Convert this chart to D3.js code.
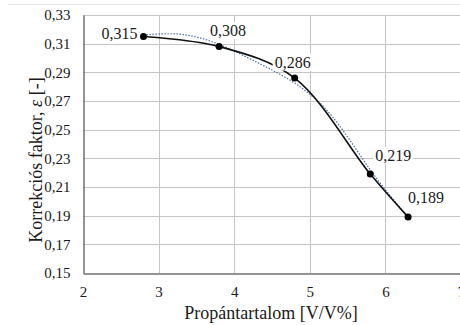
<!DOCTYPE html>
<html>
<head>
    <meta charset="utf-8">
    <script src="https://d3js.org/d3.v7.min.js"></script>
    <style>
        body { margin: 0; background: #fff; }
        svg text { font-family: "Liberation Serif", "Times New Roman", serif; fill: #1a1a1a; }
    </style>
</head>
<body>
<script>

    // measured points
    var propan = [2.8, 3.8, 4.8, 5.8, 6.3];
    var eps = [0.315, 0.308, 0.286, 0.219, 0.189];
    var pointLabels = ['0,315', '0,308', '0,286', '0,219', '0,189'];

    // dotted trendline
    var trendX = [2.8, 3.3, 3.8, 4.3, 4.8, 5.3, 5.8, 6.3];
    var trendY = [0.316, 0.3165, 0.3095, 0.297, 0.2825, 0.259, 0.222, 0.189];

    var xTicks = [2, 3, 4, 5, 6, 7];
    var yTicks = [0.15, 0.17, 0.19, 0.21, 0.23, 0.25, 0.27, 0.29, 0.31, 0.33];

    var width = 460, height = 325;
    var mLeft = 83, mTop = 15, mRight = 461, mBottom = 273;

    var xScale = d3.scaleLinear().domain([2, 7]).range([mLeft, mRight]);
    var yScale = d3.scaleLinear().domain([0.15, 0.33]).range([mBottom, mTop]);
    var fmt = function(d) { return d3.format('.2f')(d).replace('.', ','); };

    var svg = d3.select('body').append('svg')
        .attr('width', width)
        .attr('height', height)
        .attr('font-family', 'Liberation Serif');

    // faint top border of the crop
    svg.append('line')
        .attr('x1', 8).attr('x2', width)
        .attr('y1', 4.5).attr('y2', 4.5)
        .attr('stroke', '#e6e6e6');

    // grid
    svg.append('g').selectAll('line').data(yTicks.slice(1))
        .enter().append('line')
        .attr('x1', mLeft).attr('x2', mRight)
        .attr('y1', function(d) { return Math.round(yScale(d)) + 0.5; })
        .attr('y2', function(d) { return Math.round(yScale(d)) + 0.5; })
        .attr('stroke', '#c4c4c4');

    svg.append('g').selectAll('line').data(xTicks.slice(1))
        .enter().append('line')
        .attr('x1', function(d) { return Math.round(xScale(d)) + 0.5; })
        .attr('x2', function(d) { return Math.round(xScale(d)) + 0.5; })
        .attr('y1', mTop).attr('y2', mBottom)
        .attr('stroke', '#c4c4c4');

    // axes
    var gX = svg.append('g')
        .attr('transform', 'translate(0,' + (mBottom + 0.5) + ')')
        .call(d3.axisBottom(xScale).tickValues(xTicks).tickFormat(d3.format('d')).tickSize(0).tickPadding(13));
    gX.attr('font-family', null).attr('font-size', null);
    gX.select('.domain').attr('stroke', '#707070').attr('stroke-width', 1.5);
    gX.selectAll('text').style('font-size', '15px');

    var gY = svg.append('g')
        .attr('transform', 'translate(' + (mLeft + 0.5) + ',0)')
        .call(d3.axisLeft(yScale).tickValues(yTicks).tickFormat(fmt).tickSize(0).tickPadding(13));
    gY.attr('font-family', null).attr('font-size', null);
    gY.select('.domain').attr('stroke', '#707070').attr('stroke-width', 1.5);
    gY.selectAll('text').style('font-size', '15px');

    // axis titles
    svg.append('text')
        .attr('x', 271).attr('y', 319)
        .attr('text-anchor', 'middle')
        .style('font-size', '18px')
        .text('Propántartalom [V/V%]');

    svg.append('text')
        .attr('transform', 'translate(42,160) rotate(-90)')
        .attr('text-anchor', 'middle')
        .style('font-size', '18px')
        .html('Korrekciós faktor, <tspan font-style="italic">ε</tspan> [-]');

    // trendline
    var trend = d3.line()
        .x(function(d, i) { return xScale(trendX[i]); })
        .y(function(d) { return yScale(d); })
        .curve(d3.curveNatural);
    svg.append('path')
        .attr('d', trend(trendY))
        .attr('fill', 'none')
        .attr('stroke', '#4a6fa8')
        .attr('stroke-width', 1.2)
        .attr('stroke-dasharray', '1.5,1.5');

    // smoothed measured line
    var line = d3.line()
        .x(function(d, i) { return xScale(propan[i]); })
        .y(function(d) { return yScale(d); })
        .curve(d3.curveCatmullRom.alpha(0.5));
    svg.append('path')
        .attr('d', line(eps))
        .attr('fill', 'none')
        .attr('stroke', '#111')
        .attr('stroke-width', 1.6);

    svg.append('g').selectAll('circle').data(eps)
        .enter().append('circle')
        .attr('cx', function(d, i) { return xScale(propan[i]); })
        .attr('cy', function(d) { return yScale(d); })
        .attr('r', 3.5)
        .attr('fill', '#000');

    // data labels: offset from the point [dx, dy, anchor]
    var labelPos = [[-6, -3, 'end'], [9, -16, 'middle'], [-2, -16, 'middle'], [5, -19, 'start'], [0, -20, 'start']];
    var lab = svg.append('g').selectAll('g').data(eps)
        .enter().append('g')
        .attr('transform', function(d, i) {
            return 'translate(' + (xScale(propan[i]) + labelPos[i][0]) + ',' + (yScale(d) + labelPos[i][1]) + ')';
        });
    lab.append('text')
        .attr('text-anchor', function(d, i) { return labelPos[i][2]; })
        .attr('dy', '0.35em')
        .style('font-size', '16px')
        .text(function(d, i) { return pointLabels[i]; })
        .each(function() {
            var b = this.getBBox();
            d3.select(this.parentNode).insert('rect', 'text')
                .attr('x', b.x - 2).attr('y', b.y)
                .attr('width', b.width + 4).attr('height', b.height)
                .attr('fill', '#fff');
        });

</script>
</body>
</html>
